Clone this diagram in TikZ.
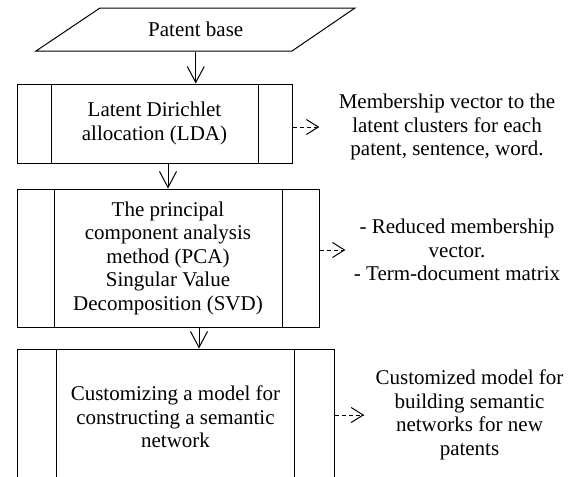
\documentclass[tikz,border=0pt]{standalone}
\usepackage{fontspec}
\setmainfont{Liberation Serif}
\usepackage{tikz}
\usetikzlibrary{calc, arrows.meta, positioning}
\tikzset{
    procnode/.style = {draw, rectangle, inner sep = 0pt, node distance=0pt, align=center,
      path picture={\draw ([xshift=#1]path picture bounding box.north west) -- ([xshift=#1]path picture bounding box.south west)
        ([xshift=-#1]path picture bounding box.north east) -- ([xshift=-#1]path picture bounding box.south east);}},
    textnode/.style  = {draw=none, fill=none, rectangle, inner sep = 0pt, node distance=0pt, align=center},
    flowarrow/.style = {-{Straight Barb[length=16pt, width=17pt]}},
    dasharrow/.style = {dash pattern=on 4pt off 3pt, -{Straight Barb[length=12pt, width=15pt]}},
    every picture/.style = {line width=1pt, font=\fontsize{21}{23.5}\selectfont}
}

\begin{document}
\begin{tikzpicture}
\useasboundingbox[clip] (0pt,0pt) rectangle (574pt,-477pt);

% input data
\node[textnode, name=base, minimum height=43pt] at (195.75pt,-29.5pt) {Patent base};
\draw (100pt,-8pt) -- (355pt,-8pt) -- (292pt,-51pt) -- (36pt,-51pt) -- cycle;

% processing steps
\node[procnode=34pt, name=lda, below of = base, xshift=-41.25pt, yshift=-94pt,
	minimum width=275pt, minimum height=79pt] {Latent Dirichlet\\allocation (LDA)};
\node[procnode=37pt, name=pca, below of = lda, xshift=13.5pt, yshift=-134.5pt,
	minimum width=302pt, minimum height=138pt] {The principal\\component analysis\\method (PCA)\\Singular Value\\Decomposition (SVD)};
\node[procnode=39.5pt, name=cust, below of = pca, xshift=7.5pt, yshift=-159pt,
	minimum width=317pt, minimum height=136pt] {Customizing a model for\\constructing a semantic\\network};

% results
\node[textnode, name=out1, right of = lda, xshift=292.5pt, yshift=-3.5pt] {Membership vector to the\\latent clusters for each\\patent, sentence, word.};
\node[textnode, name=out2, right of = pca, xshift=289pt, yshift=8pt] {- Reduced membership\\vector.\\- Term-document matrix};
\node[textnode, name=out3, right of = cust, xshift=294pt, yshift=2pt] {Customized model for\\building semantic\\networks for new\\patents};

\draw[flowarrow] (base.south) -- (base.south |- lda.north);
\draw[flowarrow] (lda.south -| pca.north) -- (pca.north);
\draw[flowarrow] ([xshift=31pt]pca.south) -- ([xshift=23.5pt]cust.north);

\draw[dasharrow, shorten >=19pt] (lda.east |- out1.west) -- (out1.west);
\draw[dasharrow, shorten >=8pt] (pca.east |- out2.west) -- (out2.west);
\draw[dasharrow, shorten >=11pt] (cust.east |- out3.west) -- (out3.west);
\end{tikzpicture}
\end{document}
